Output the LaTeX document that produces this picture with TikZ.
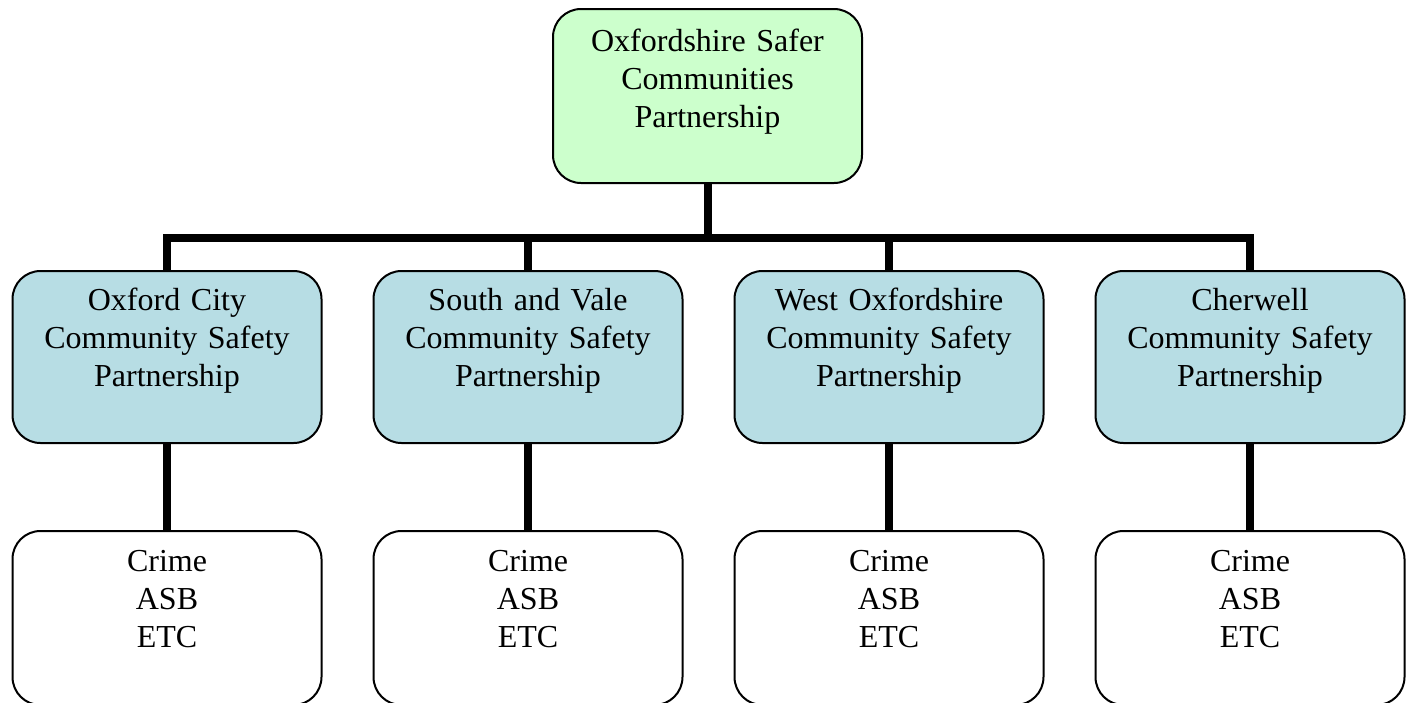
\documentclass[tikz,border=0pt]{standalone}
\usepackage{fontspec}
\setmainfont{Liberation Serif}
\usetikzlibrary{positioning}
\definecolor{topgreen}{RGB}{204,255,204}
\definecolor{cspblue}{RGB}{183,221,228}

\begin{document}
\begin{tikzpicture}[x=1pt,y=1pt,
	box/.style={draw,line width=2pt,rounded corners=28pt,inner sep=0pt,text width=309pt,align=center,anchor=north,font=\fontsize{32}{38}\selectfont},
	topbox/.style={box,fill=topgreen,text height=42pt,text depth=132pt},
	cspbox/.style={box,fill=cspblue,text height=39pt,text depth=133pt},
	listbox/.style={box,fill=white,text height=40pt,text depth=134pt},
	link/.style={line width=8pt}]
					\useasboundingbox (0,0) rectangle (1409,-702);
					%TOP
					\node[topbox] (oscp) at (707.5,-8) {Oxfordshire Safer\\Communities\\Partnership};
					\coordinate (bus) at (707.5,-238);
					%PARTNERSHIPS
					\node[cspbox] (oxford) at (167,-270) {Oxford City\\Community Safety\\Partnership};
					\node[cspbox] (southvale) at (528,-270) {South and Vale\\Community Safety\\Partnership};
					\node[cspbox] (westox) at (889,-270) {West Oxfordshire\\Community Safety\\Partnership};
					\node[cspbox] (cherwell) at (1250,-270) {Cherwell\\Community Safety\\Partnership};
					%LISTS
					\foreach \p in {oxford,southvale,westox,cherwell}{
						\node[listbox] (\p-list) at ([yshift=-260]\p.north) {Crime\\ASB\\ETC};
						\draw[link] (\p.south) -- (\p-list.north);
					}
					%BUS
					\draw[link] (oscp.south) -- (bus);
					\draw[link] (oxford.north) -- (oxford.north |- bus) -- (cherwell.north |- bus) -- (cherwell.north);
					\draw[link] (southvale.north) -- (southvale.north |- bus);
					\draw[link] (westox.north) -- (westox.north |- bus);
\end{tikzpicture}
\end{document}
